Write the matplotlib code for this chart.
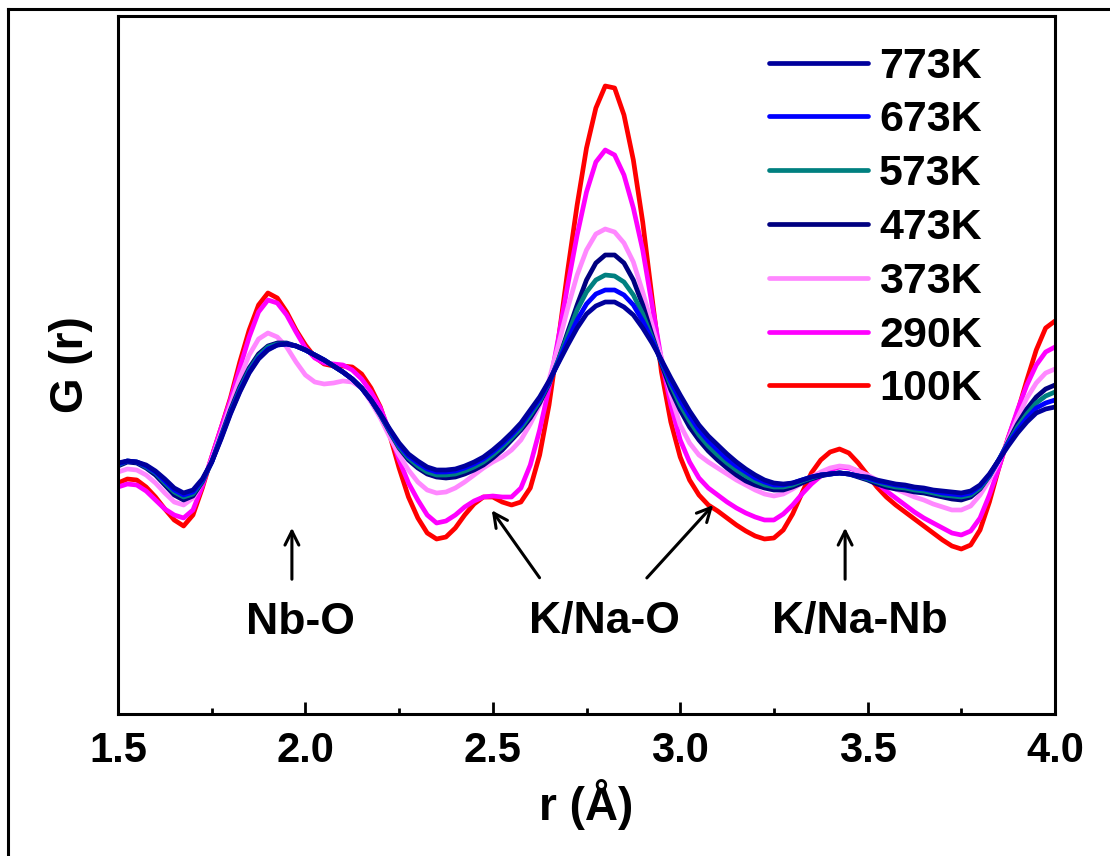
import numpy as np
from matplotlib import pyplot as plt
from matplotlib.lines import Line2D
from matplotlib.ticker import MultipleLocator

plt.rcParams['font.family'] = ['Liberation Sans', 'DejaVu Sans']
plt.rcParams['font.weight'] = 'bold'

r = np.round(np.linspace(1.5, 4.0, 101), 3)

g_100 = [0.17, 0.21, 0.20, 0.13, 0.03, -0.09, -0.20, -0.26, -0.15, 0.12,
         0.43, 0.72, 1.02, 1.38, 1.70, 1.95, 2.07, 2.02, 1.88, 1.70,
         1.55, 1.43, 1.36, 1.34, 1.34, 1.33, 1.26, 1.12, 0.93, 0.65,
         0.32, 0.03, -0.18, -0.33, -0.39, -0.37, -0.28, -0.15, -0.04, 0.03,
         0.03, -0.02, -0.05, -0.02, 0.12, 0.45, 0.95, 1.60, 2.30, 2.95,
         3.52, 3.92, 4.14, 4.12, 3.85, 3.40, 2.78, 2.02, 1.28, 0.78,
         0.43, 0.20, 0.05, -0.05, -0.11, -0.18, -0.25, -0.31, -0.36, -0.39,
         -0.38, -0.30, -0.14, 0.07, 0.27, 0.40, 0.48, 0.51, 0.47, 0.37,
         0.25, 0.13, 0.03, -0.05, -0.12, -0.19, -0.26, -0.33, -0.40, -0.46,
         -0.49, -0.45, -0.30, -0.02, 0.32, 0.62, 0.88, 1.20, 1.50, 1.72,
         1.79]
g_290 = [0.13, 0.16, 0.15, 0.09, 0.00, -0.09, -0.15, -0.18, -0.10, 0.14,
         0.43, 0.72, 1.00, 1.32, 1.63, 1.88, 2.00, 1.97, 1.85, 1.68,
         1.52, 1.42, 1.37, 1.36, 1.35, 1.30, 1.21, 1.08, 0.92, 0.68,
         0.40, 0.17, 0.00, -0.15, -0.23, -0.21, -0.15, -0.07, -0.01, 0.03,
         0.04, 0.03, 0.03, 0.12, 0.35, 0.70, 1.12, 1.62, 2.15, 2.65,
         3.08, 3.38, 3.50, 3.45, 3.25, 2.92, 2.50, 1.95, 1.40, 0.95,
         0.60, 0.38, 0.22, 0.12, 0.05, -0.02, -0.08, -0.13, -0.17, -0.20,
         -0.20, -0.14, -0.05, 0.06, 0.16, 0.24, 0.30, 0.33, 0.32, 0.29,
         0.24, 0.17, 0.09, 0.02, -0.05, -0.12, -0.18, -0.23, -0.28, -0.33,
         -0.35, -0.31, -0.18, 0.05, 0.32, 0.62, 0.90, 1.15, 1.35, 1.48,
         1.53]
g_373 = [0.28, 0.31, 0.30, 0.25, 0.17, 0.07, -0.02, -0.05, 0.02, 0.18,
         0.40, 0.67, 0.95, 1.22, 1.45, 1.61, 1.67, 1.63, 1.53, 1.38,
         1.25, 1.18, 1.16, 1.17, 1.19, 1.18, 1.12, 0.98, 0.82, 0.63,
         0.45, 0.30, 0.18, 0.10, 0.07, 0.08, 0.12, 0.18, 0.25, 0.32,
         0.38, 0.43, 0.50, 0.60, 0.76, 0.95, 1.20, 1.55, 1.92, 2.25,
         2.50, 2.66, 2.71, 2.68, 2.57, 2.38, 2.08, 1.75, 1.42, 1.05,
         0.75, 0.57, 0.45, 0.38, 0.32, 0.26, 0.20, 0.15, 0.10, 0.06,
         0.04, 0.06, 0.11, 0.17, 0.23, 0.28, 0.32, 0.34, 0.33, 0.29,
         0.25, 0.20, 0.15, 0.11, 0.07, 0.03, 0.00, -0.04, -0.07, -0.10,
         -0.10, -0.06, 0.05, 0.20, 0.38, 0.60, 0.82, 1.02, 1.17, 1.27,
         1.31]
g_473 = [0.34, 0.38, 0.37, 0.32, 0.25, 0.15, 0.05, 0.00, 0.04, 0.18,
         0.38, 0.64, 0.90, 1.13, 1.32, 1.46, 1.54, 1.57, 1.57, 1.54,
         1.50, 1.45, 1.40, 1.34, 1.28, 1.21, 1.12, 1.00, 0.85, 0.68,
         0.52, 0.40, 0.32, 0.26, 0.23, 0.22, 0.23, 0.26, 0.30, 0.35,
         0.42, 0.50, 0.60, 0.70, 0.82, 0.97, 1.16, 1.40, 1.68, 1.95,
         2.20, 2.37, 2.45, 2.45, 2.37, 2.20, 1.95, 1.65, 1.36, 1.10,
         0.90, 0.73, 0.60, 0.49, 0.40, 0.32, 0.25, 0.19, 0.15, 0.12,
         0.10, 0.10, 0.13, 0.17, 0.21, 0.24, 0.26, 0.27, 0.26, 0.23,
         0.20, 0.16, 0.13, 0.11, 0.10, 0.08, 0.07, 0.05, 0.03, 0.01,
         0.00, 0.03, 0.11, 0.24, 0.40, 0.58, 0.76, 0.91, 1.03, 1.11,
         1.15]
g_573 = [0.35, 0.39, 0.38, 0.33, 0.27, 0.17, 0.08, 0.03, 0.06, 0.19,
         0.38, 0.63, 0.88, 1.11, 1.30, 1.44, 1.53, 1.56, 1.56, 1.54,
         1.50, 1.45, 1.40, 1.34, 1.28, 1.21, 1.12, 1.00, 0.85, 0.69,
         0.53, 0.42, 0.34, 0.28, 0.25, 0.25, 0.26, 0.29, 0.33, 0.38,
         0.45, 0.53, 0.62, 0.72, 0.85, 0.99, 1.17, 1.40, 1.65, 1.90,
         2.08, 2.20, 2.25, 2.24, 2.18, 2.05, 1.86, 1.62, 1.38, 1.15,
         0.95, 0.79, 0.65, 0.54, 0.45, 0.37, 0.30, 0.24, 0.19, 0.15,
         0.13, 0.13, 0.15, 0.19, 0.22, 0.25, 0.26, 0.27, 0.26, 0.24,
         0.21, 0.18, 0.15, 0.13, 0.12, 0.10, 0.09, 0.07, 0.05, 0.04,
         0.03, 0.05, 0.12, 0.24, 0.40, 0.57, 0.73, 0.86, 0.97, 1.04,
         1.08]
g_673 = [0.36, 0.39, 0.38, 0.34, 0.28, 0.19, 0.10, 0.05, 0.08, 0.20,
         0.38, 0.62, 0.87, 1.09, 1.28, 1.42, 1.51, 1.55, 1.56, 1.54,
         1.50, 1.45, 1.40, 1.34, 1.28, 1.21, 1.12, 1.00, 0.86, 0.70,
         0.55, 0.44, 0.37, 0.31, 0.28, 0.28, 0.29, 0.32, 0.36, 0.41,
         0.48, 0.56, 0.65, 0.75, 0.88, 1.01, 1.18, 1.38, 1.60, 1.80,
         1.96, 2.06, 2.10, 2.10, 2.05, 1.95, 1.79, 1.60, 1.39, 1.18,
         1.00, 0.84, 0.70, 0.59, 0.50, 0.41, 0.34, 0.28, 0.22, 0.18,
         0.15, 0.15, 0.17, 0.20, 0.23, 0.25, 0.26, 0.27, 0.26, 0.24,
         0.22, 0.19, 0.17, 0.15, 0.14, 0.12, 0.11, 0.09, 0.07, 0.06,
         0.05, 0.07, 0.14, 0.25, 0.40, 0.56, 0.70, 0.82, 0.92, 0.97,
         1.00]
g_773 = [0.37, 0.39, 0.38, 0.35, 0.29, 0.21, 0.12, 0.07, 0.10, 0.21,
         0.38, 0.61, 0.86, 1.08, 1.27, 1.41, 1.50, 1.55, 1.56, 1.54,
         1.50, 1.45, 1.40, 1.34, 1.28, 1.21, 1.12, 1.00, 0.86, 0.71,
         0.57, 0.46, 0.39, 0.33, 0.30, 0.30, 0.31, 0.34, 0.38, 0.43,
         0.50, 0.58, 0.67, 0.77, 0.90, 1.03, 1.19, 1.37, 1.55, 1.72,
         1.86, 1.94, 1.98, 1.98, 1.93, 1.85, 1.72, 1.57, 1.40, 1.22,
         1.05, 0.89, 0.75, 0.64, 0.55, 0.46, 0.38, 0.31, 0.25, 0.20,
         0.17, 0.16, 0.17, 0.20, 0.23, 0.25, 0.26, 0.27, 0.26, 0.24,
         0.23, 0.20, 0.18, 0.16, 0.15, 0.13, 0.12, 0.10, 0.09, 0.08,
         0.07, 0.09, 0.15, 0.26, 0.40, 0.54, 0.67, 0.78, 0.87, 0.91,
         0.93]

labels = ['100K', '290K', '373K', '473K', '573K', '673K', '773K']
curves = [g_100, g_290, g_373, g_473, g_573, g_673, g_773]
colors = ['#FF0000', '#FF00FF', '#FF88FF', '#000080', '#008080', '#0000FF', '#00009C']

fig = plt.figure(figsize=(11.1, 8.56), dpi=100)
ax = fig.add_axes([118 / 1110, 1 - 714 / 856, 937 / 1110, 698 / 856])

lines = []
for y, c, lab in zip(curves, colors, labels):
    ln, = ax.plot(r, y, color=c, lw=3.4, label=lab, solid_capstyle='round',
                  solid_joinstyle='round')
    lines.append(ln)

ax.set_xlim(1.5, 4.0)
ax.set_ylim(-2.14, 4.84)
ax.set_yticks([])
ax.xaxis.set_major_locator(MultipleLocator(0.5))
ax.xaxis.set_minor_locator(MultipleLocator(0.25))
ax.tick_params(axis='x', which='major', direction='in', length=9, width=2,
               labelsize=30, pad=12)
ax.tick_params(axis='x', which='minor', direction='in', length=4.5, width=2)
for lab in ax.get_xticklabels():
    lab.set_fontweight('bold')
for s in ax.spines.values():
    s.set_linewidth(2.2)

ax.set_xlabel('r (Å)', fontsize=33, fontweight='bold', labelpad=6)
ax.set_ylabel('G (r)', fontsize=33, fontweight='bold', labelpad=18)

ax.legend(lines[::-1], labels[::-1], loc='upper left', bbox_to_anchor=(0.695, 0.956),
          frameon=False, handlelength=2.3, handletextpad=0.25,
          labelspacing=0.32, borderpad=0, borderaxespad=0,
          prop={'weight': 'bold', 'size': 31})

arrow = dict(arrowstyle='->', lw=2.2, color='black', mutation_scale=25)
txt = dict(fontsize=32, fontweight='bold', ha='center', va='center')
ax.annotate('', xy=(1.964, -0.25), xytext=(1.964, -0.82), arrowprops=arrow)
ax.text(1.988, -1.22, 'Nb-O', **txt)
ax.annotate('', xy=(2.493, -0.08), xytext=(2.629, -0.80), arrowprops=arrow)
ax.annotate('', xy=(3.093, -0.03), xytext=(2.906, -0.80), arrowprops=arrow)
ax.text(2.797, -1.22, 'K/Na-O', **txt)
ax.annotate('', xy=(3.440, -0.25), xytext=(3.440, -0.82), arrowprops=arrow)
ax.text(3.480, -1.22, 'K/Na-Nb', **txt)

# outer frame (only left and top visible)
fig.add_artist(Line2D([8 / 1110, 8 / 1110], [0, 1 - 9 / 856], color='black', lw=2.2,
                      transform=fig.transFigure))
fig.add_artist(Line2D([8 / 1110, 1], [1 - 9 / 856, 1 - 9 / 856], color='black', lw=2.2,
                      transform=fig.transFigure))

fig.savefig('out.png', dpi=100)
